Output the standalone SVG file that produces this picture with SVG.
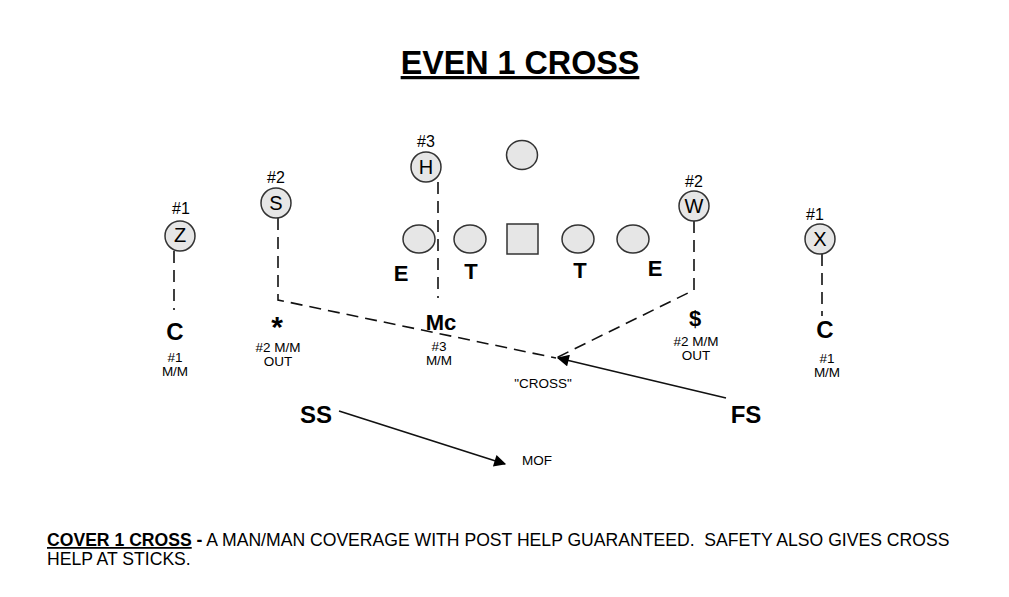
<svg xmlns="http://www.w3.org/2000/svg" width="1009" height="597" viewBox="0 0 1009 597">
<style>
text{font-family:"Liberation Sans",Arial,sans-serif;fill:#000}
.pl{fill:#e6e6e6;stroke:#333;stroke-width:1.5}
.lbl{font-size:16px;text-anchor:middle}
.ltr{font-size:20px;text-anchor:middle}
.b{font-weight:bold;text-anchor:middle}
.sm{font-size:13.5px;text-anchor:middle}
.d{fill:none;stroke:#111;stroke-width:1.6;stroke-dasharray:12 7}
.s{fill:none;stroke:#111;stroke-width:1.6}
</style>
<defs>
<marker id="ah2" viewBox="0 0 10 10" refX="9" refY="5" markerWidth="14" markerHeight="12" markerUnits="userSpaceOnUse" orient="auto"><path d="M0,0 L10,5 L0,10 z" fill="#000"/></marker>
</defs>
<rect width="1009" height="597" fill="#fff"/>
<g id="title"><text x="520" y="74" class="b" font-size="32.3" text-decoration="underline">EVEN 1 CROSS</text></g>
<g id="connectors">
<path class="d" d="M174,251 V310"/>
<path class="d" d="M278,218 V300 L556,358"/>
<path class="d" d="M438,182 V298"/>
<path class="d" d="M694,221 V290 L556,358"/>
<path class="d" d="M822,254 V316"/>
<path class="s" d="M726,398 L558,358" marker-end="url(#ah2)"/>
<path class="s" d="M339,411 L505,464" marker-end="url(#ah2)"/>
</g>
<g id="Z"><circle class="pl" cx="180" cy="236" r="15"/><text x="180" y="242" class="ltr">Z</text><text x="181" y="214" class="lbl">#1</text></g>
<g id="S"><circle class="pl" cx="276" cy="203" r="15"/><text x="276" y="210" class="ltr">S</text><text x="276" y="183" class="lbl">#2</text></g>
<g id="H"><circle class="pl" cx="426" cy="167" r="15"/><text x="426" y="174" class="ltr">H</text><text x="426" y="147" class="lbl">#3</text></g>
<g id="back"><ellipse class="pl" cx="522" cy="155" rx="15.5" ry="14.5"/></g>
<g id="lineE1"><ellipse class="pl" cx="419" cy="239" rx="16" ry="14"/></g>
<g id="lineT1"><ellipse class="pl" cx="470" cy="239" rx="16" ry="14"/></g>
<g id="center"><rect class="pl" x="507" y="224" width="31" height="30"/></g>
<g id="lineT2"><ellipse class="pl" cx="578" cy="239" rx="16" ry="14"/></g>
<g id="lineE2"><ellipse class="pl" cx="633" cy="239" rx="16" ry="14"/></g>
<g id="W"><circle class="pl" cx="694" cy="206" r="15"/><text x="694" y="213" class="ltr">W</text><text x="694" y="187" class="lbl">#2</text></g>
<g id="X"><circle class="pl" cx="820" cy="239" r="15"/><text x="820" y="246" class="ltr">X</text><text x="815" y="220" class="lbl">#1</text></g>
<g id="defE1"><text x="401" y="281" class="b" font-size="22">E</text></g>
<g id="defT1"><text x="471" y="279" class="b" font-size="22">T</text></g>
<g id="defT2"><text x="580" y="278" class="b" font-size="22">T</text></g>
<g id="defE2"><text x="655" y="276" class="b" font-size="22">E</text></g>
<g id="C1"><text x="175" y="340" class="b" font-size="24">C</text><text x="175" y="362" class="sm">#1</text><text x="175" y="376" class="sm">M/M</text></g>
<g id="star"><text x="277" y="337" class="b" font-size="30">*</text><text x="278" y="352" class="sm">#2 M/M</text><text x="278" y="365.5" class="sm">OUT</text></g>
<g id="Mc"><text x="441" y="330" class="b" font-size="22">Mc</text><text x="439" y="351" class="sm">#3</text><text x="439" y="365" class="sm">M/M</text></g>
<g id="dollar"><text x="695" y="326" class="b" font-size="22">$</text><text x="696" y="346" class="sm">#2 M/M</text><text x="696" y="359.5" class="sm">OUT</text></g>
<g id="C2"><text x="825" y="338" class="b" font-size="24">C</text><text x="827" y="363" class="sm">#1</text><text x="827" y="376.5" class="sm">M/M</text></g>
<g id="cross"><text x="543" y="388" class="sm" font-size="14.5">"CROSS"</text></g>
<g id="SS"><text x="316" y="423" class="b" font-size="24">SS</text></g>
<g id="FS"><text x="746" y="423" class="b" font-size="24">FS</text></g>
<g id="MOF"><text x="537" y="465" class="sm" font-size="15.5">MOF</text></g>
<g id="note">
<text x="47" y="546" font-size="17.6" xml:space="preserve" style="white-space:pre"><tspan font-weight="bold" text-decoration="underline">COVER 1 CROSS</tspan><tspan font-weight="bold"> -</tspan> A MAN/MAN COVERAGE WITH POST HELP GUARANTEED.  SAFETY ALSO GIVES CROSS</text>
<text x="47" y="565" font-size="17.6">HELP AT STICKS.</text>
</g>
</svg>
